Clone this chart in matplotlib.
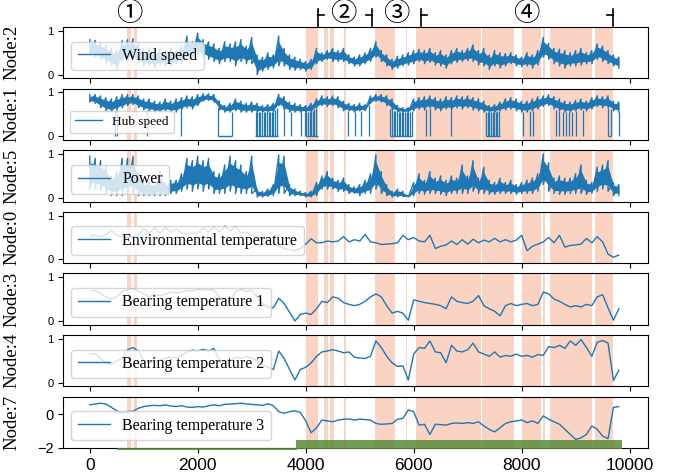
import numpy as np
import matplotlib
matplotlib.use("Agg")
import matplotlib.pyplot as plt
from matplotlib.transforms import blended_transform_factory

# ---------------- data ----------------
t = np.arange(0, 9900, 100)

wind_hi = [.80,.78,.72,.68,.60,.55,.78,.80,.82,.70,.60,.62,.55,.60,.55,.60,.55,.65,.88,.75,
           .95,.80,.75,.70,.60,.75,.70,.75,.80,.65,.85,.45,.40,.50,.45,.88,.60,.45,.40,.35,
           .30,.35,.60,.50,.55,.60,.55,.60,.45,.40,.45,.50,.60,.75,.55,.45,.35,.42,.45,.50,
           .55,.58,.55,.60,.50,.55,.45,.55,.60,.55,.60,.68,.55,.60,.45,.55,.50,.48,.50,.45,
           .40,.50,.45,.55,.85,.72,.60,.58,.55,.50,.55,.60,.50,.55,.70,.65,.55,.45,.40]
wind_lo = [.45,.40,.35,.25,.20,.12,.30,.30,.35,.25,.20,.20,.15,.22,.18,.20,.25,.25,.35,.40,
           .45,.40,.35,.30,.25,.30,.30,.20,.30,.25,.25,.00,.08,.12,.15,.20,.20,.12,.10,.12,
           .08,.12,.25,.30,.35,.30,.30,.30,.25,.20,.20,.25,.30,.40,.30,.20,.12,.15,.20,.22,
           .25,.30,.25,.28,.22,.20,.15,.25,.28,.30,.32,.30,.22,.20,.12,.20,.15,.20,.25,.20,
           .18,.20,.15,.22,.40,.35,.25,.20,.15,.20,.20,.22,.25,.25,.35,.30,.25,.20,.15]

hub_hi = [.95,.95,.92,.88,.85,.90,.95,.95,.95,.92,.85,.85,.80,.78,.85,.80,.85,.88,.92,.90,
          .95,.97,.97,.95,.80,.70,.75,.85,.80,.75,.78,.75,.70,.72,.75,.96,.90,.78,.75,.72,
          .70,.75,.85,.92,.90,.92,.90,.80,.75,.72,.75,.72,.92,.95,.95,.92,.85,.70,.65,.65,
          .85,.88,.90,.92,.88,.85,.90,.88,.92,.90,.92,.88,.85,.80,.70,.72,.78,.85,.88,.85,
          .80,.80,.85,.90,.92,.95,.90,.85,.80,.78,.82,.85,.80,.88,.92,.90,.92,.80,.78]
hub_lo = [.78,.75,.65,.58,.55,.60,.65,.70,.72,.65,.60,.58,.55,.55,.58,.55,.55,.60,.65,.62,
          .70,.80,.82,.78,.60,.55,.55,.58,.55,.55,.55,.55,.55,.55,.55,.70,.60,.55,.55,.55,
          .55,.55,.65,.70,.68,.70,.65,.58,.58,.55,.58,.58,.75,.80,.78,.70,.60,.55,.55,.55,
          .58,.62,.60,.65,.60,.58,.62,.60,.65,.62,.65,.60,.58,.55,.55,.55,.58,.60,.62,.58,
          .55,.55,.58,.62,.68,.70,.62,.58,.55,.55,.58,.60,.58,.62,.68,.65,.65,.58,.55]
hub_drop_x = [460, 500, 1050, 1680, 2370, 2640, 3070, 3100, 3130, 3160, 3190, 3220, 3250,
              3280, 3310, 3340, 3370, 3400, 3430, 3460, 3600, 3720, 3910, 3980, 4010, 4040,
              4070, 4100, 4130, 4160, 4190, 4780, 4910, 5030, 5180, 5570, 5600, 5630, 5660,
              5690, 5720, 5750, 5780, 5810, 5840, 5870, 5900, 5930, 5960, 6230, 6300, 6700,
              7340, 7370, 7400, 7430, 7460, 7490, 7520, 7550, 7580, 8030, 8150, 8210, 8640,
              8700, 8760, 8820, 8880, 8940, 9000, 9130, 9600, 9650, 9800]
hub_zero_start = [2370, 3060, 4000, 5560, 7340, 9600]
hub_zero_end = [2640, 3490, 4220, 5960, 7600, 9660]

power_hi = [.95,.90,.85,.72,.50,.60,.90,.90,.95,.60,.35,.40,.30,.60,.35,.40,.40,.55,.90,.85,
            .95,.85,.90,.60,.55,.75,.95,.85,.75,.60,.95,.20,.15,.20,.30,.98,.95,.30,.20,.15,
            .12,.15,.35,.50,.60,.45,.40,.45,.30,.25,.30,.40,.55,.98,.60,.30,.15,.20,.15,.05,
            .35,.55,.40,.60,.45,.50,.40,.50,.45,.75,.50,.85,.45,.70,.40,.35,.45,.35,.40,.30,
            .35,.40,.45,.55,1.0,.80,.45,.50,.45,.45,.55,.75,.40,.35,.70,.75,.85,.35,.30]
power_lo = [.20,.20,.18,.10,.05,.05,.05,.10,.10,.05,.05,.05,.05,.05,.05,.10,.10,.15,.20,.15,
            .20,.15,.20,.10,.10,.10,.15,.10,.10,.10,.10,.02,.02,.03,.05,.10,.10,.05,.05,.05,
            .02,.02,.05,.20,.20,.20,.15,.15,.10,.10,.05,.10,.10,.20,.10,.05,.02,.02,.03,.02,
            .05,.10,.08,.10,.10,.08,.05,.10,.10,.10,.10,.15,.10,.10,.08,.08,.10,.10,.10,.08,
            .10,.10,.10,.15,.30,.15,.10,.08,.08,.10,.10,.10,.08,.10,.15,.20,.15,.05,.05]

env_temp = [.53,.55,.52,.57,.66,.55,.52,.50,.52,.55,.70,.60,.72,.60,.73,.62,.70,.60,.58,.60,
            .60,.72,.62,.75,.62,.76,.65,.75,.60,.62,.55,.50,.48,.45,.35,.30,.25,.22,.20,.25,
            .35,.47,.38,.38,.42,.40,.42,.52,.40,.45,.42,.57,.40,.38,.34,.35,.36,.38,.55,.45,
            .50,.42,.40,.55,.25,.30,.33,.42,.34,.45,.35,.46,.38,.44,.40,.48,.40,.45,.40,.44,
            .55,.20,.30,.35,.40,.50,.38,.55,.28,.32,.33,.35,.48,.38,.52,.40,.12,.05,.10]

bear1 = [.68,.70,.62,.55,.50,.55,.68,.72,.74,.68,.62,.55,.60,.58,.62,.66,.64,.66,.70,.68,
         .72,.70,.72,.70,.55,.48,.45,.68,.72,.68,.70,.55,.40,.32,.30,.52,.40,.20,.00,.15,
         .18,.15,.28,.45,.42,.55,.52,.42,.38,.35,.38,.45,.55,.62,.55,.35,.18,.22,.18,.02,
         .48,.45,.42,.40,.38,.35,.28,.55,.45,.42,.40,.45,.58,.35,.28,.22,.12,.35,.40,.35,
         .38,.40,.35,.38,.66,.62,.50,.45,.38,.32,.35,.32,.38,.35,.55,.60,.30,.02,.28]

bear2 = [.64,.66,.55,.45,.42,.50,.55,.75,.80,.72,.50,.45,.48,.52,.55,.58,.56,.62,.70,.74,
         .72,.76,.72,.78,.52,.48,.50,.58,.55,.60,.56,.50,.40,.35,.30,.72,.55,.30,.06,.30,
         .35,.45,.60,.70,.72,.75,.72,.68,.70,.58,.56,.55,.60,.95,.80,.60,.45,.37,.38,.06,
         .65,.80,.78,.95,.70,.68,.45,.85,.72,.70,.75,.90,.70,.65,.60,.70,.58,.62,.60,.65,
         .60,.62,.58,.64,.62,.82,.80,.85,.78,.95,.85,.98,.80,.60,.92,.96,.90,.05,.28]

bear3 = [.55,.60,.65,.60,.40,.20,.06,.15,.18,.35,.45,.50,.52,.50,.55,.48,.45,.50,.42,.40,
         .45,.42,.50,.55,.50,.58,.60,.62,.65,.60,.58,.55,.52,.62,.50,.15,.05,.15,.20,.10,
         -.40,-1.10,-.80,-.35,-.40,-.45,-.35,-.30,-.28,-.35,-.30,-.32,-.35,-.55,-.60,-.58,-.55,-.30,-.25,.25,
         .15,-.65,-.60,-1.20,-.60,-.62,-.65,-.55,-.52,-.55,-.50,-.55,-.45,-.70,-.90,-1.05,-.80,-.55,-.45,-.40,
         -.35,-.50,-.40,-.55,-.10,-.30,-.45,-.60,-.90,-1.20,-1.50,-1.40,-1.20,-.70,-.90,-1.30,-1.45,.40,.45]

labels = ["Wind speed", "Hub speed", "Power", "Environmental temperature",
          "Bearing temperature 1", "Bearing temperature 2", "Bearing temperature 3"]
nodes = ["Node:2", "Node:1", "Node:5", "Node:0", "Node:3", "Node:4", "Node:7"]

shade_start = [690, 820, 4000, 4333, 4444, 4704, 5278, 5852, 6037, 7272, 8012, 8395, 8519, 9352]
shade_end = [760, 875, 4228, 4413, 4530, 4753, 5661, 5883, 7253, 7852, 8352, 8432, 9309, 9698]

phase_names = ["①", "②", "③", "④"]
phase_center = [722, 4700, 5685, 8093]
bracket_left = [4222, 6130]
bracket_right = [5222, 9685]

green_thin = (520, 3815)
green_bar = (3815, 9850)

# ---------------- drawing ----------------
C = "#1f77b4"
SHADE = "#fbd3c2"
serif = ["Liberation Serif", "DejaVu Serif"]

fig = plt.figure(figsize=(6.73, 4.75), dpi=100)
axes = fig.subplots(7, 1, sharex=True)
fig.subplots_adjust(left=0.094, right=0.963, top=0.943, bottom=0.057, hspace=0.2)

t = np.asarray(t)


def shade(ax):
    for s, e in zip(shade_start, shade_end):
        ax.axvspan(s, e, color=SHADE, lw=0, zorder=0)


def noisy(ax, lo, hi, label):
    """Dense noisy signal: solid core band plus min/max spikes at each sample."""
    lo = np.asarray(lo, float)
    hi = np.asarray(hi, float)
    span = hi - lo
    ax.fill_between(t, lo + 0.2 * span, hi - 0.2 * span, color=C, lw=0, zorder=2)
    xs = np.repeat(t, 2)
    ys = np.column_stack([hi, lo]).ravel()
    ax.plot(xs, ys, color=C, lw=1.0, zorder=2, label=label)


ax = axes[0]
shade(ax)
noisy(ax, wind_lo, wind_hi, labels[0])

ax = axes[1]
shade(ax)
noisy(ax, hub_lo, hub_hi, labels[1])
hub_top = np.interp(hub_drop_x, t, hub_lo)
ax.vlines(hub_drop_x, 0, hub_top, color=C, lw=0.9, zorder=2)
for s, e in zip(hub_zero_start, hub_zero_end):
    ax.hlines(0, s, e, color=C, lw=1.0, zorder=2)

ax = axes[2]
shade(ax)
noisy(ax, power_lo, power_hi, labels[2])

for ax, y, lab in zip(axes[3:], [env_temp, bear1, bear2, bear3], labels[3:]):
    shade(ax)
    ax.plot(t, y, color=C, lw=1.0, label=lab, zorder=2)

for i, ax in enumerate(axes):
    if i < 6:
        ax.set_ylim(-0.085, 1.085)
        ax.set_yticks([0, 1])
    else:
        ax.set_ylim(-2.0, 1.04)
        ax.set_yticks([-2, 0])
    ax.set_xlim(-492, 10342)
    ax.set_ylabel(nodes[i], fontsize=13.5, family=serif)
    ax.yaxis.set_label_coords(-0.073, 0.5)
    ax.tick_params(axis="y", labelsize=8 if i < 6 else 10.5)
    ax.tick_params(axis="x", labelsize=12.5)
    fs = 9.5 if i == 1 else 11.5
    ax.legend(loc="lower left", prop={"family": serif, "size": fs})

for lab in axes[-1].get_xticklabels():
    lab.set_family(["Liberation Sans", "DejaVu Sans"])
for ax in axes:
    for lab in ax.get_yticklabels():
        lab.set_family(["Liberation Sans", "DejaVu Sans"])

ax = axes[-1]
ax.fill_between(list(green_bar), -2.07, -1.54, color="#5b8c3a", alpha=0.85, lw=0, zorder=3, clip_on=False)
ax.plot(list(green_thin), [-2.05, -2.05], color="#5b8c3a", lw=1.5, alpha=0.85, clip_on=False, zorder=3)

ax = axes[0]
tr = blended_transform_factory(ax.transData, ax.transAxes)
for name, xc in zip(phase_names, phase_center):
    ax.text(xc, 1.27, name, transform=tr, ha="center", va="center", fontsize=19,
            family=["Noto Sans CJK SC", "DejaVu Sans"])
for xb in bracket_left:
    ax.plot([xb, xb], [1.02, 1.36], transform=tr, color="black", lw=1.2, clip_on=False)
    ax.plot([xb, xb + 110], [1.235, 1.235], transform=tr, color="black", lw=1.2, clip_on=False)
for xb in bracket_right:
    ax.plot([xb, xb], [1.02, 1.36], transform=tr, color="black", lw=1.2, clip_on=False)
    ax.plot([xb - 110, xb], [1.235, 1.235], transform=tr, color="black", lw=1.2, clip_on=False)

fig.savefig("out.png", dpi=100)
